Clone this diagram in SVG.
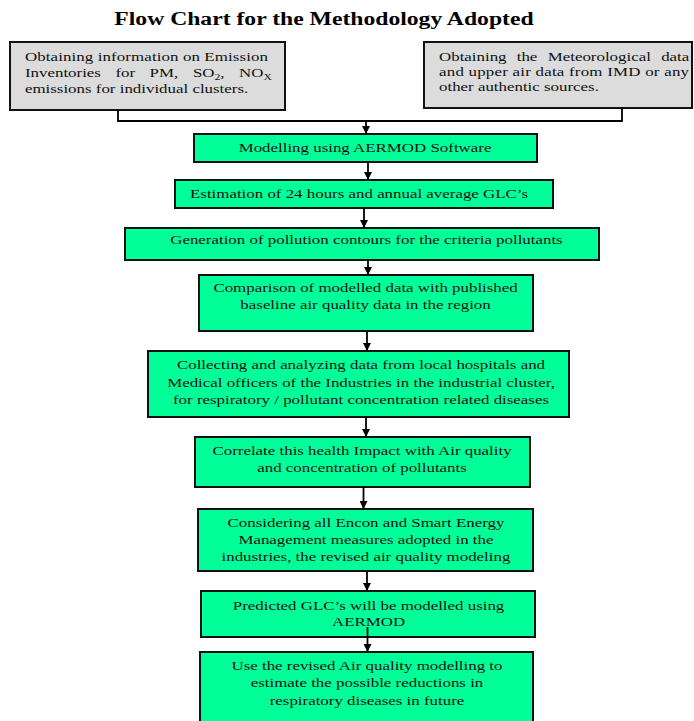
<svg xmlns="http://www.w3.org/2000/svg" width="694" height="721" viewBox="0 0 694 721">
<style>
.t{font-family:"Liberation Serif","Times New Roman",serif;font-size:13px;fill:#111;}
.c{text-anchor:middle;}
.title{font-family:"Liberation Serif","Times New Roman",serif;font-size:18.2px;font-weight:bold;fill:#000;text-anchor:middle;}
.g{fill:#00FF99;stroke:#111;stroke-width:2;}
.gr{fill:#DCDCDC;stroke:#111;stroke-width:2;}
.ln{fill:none;stroke:#000;stroke-width:1.8;}
</style>
<defs>
<marker id="ah" viewBox="0 0 10 10" refX="10" refY="5" markerWidth="9" markerHeight="8" markerUnits="userSpaceOnUse" orient="auto">
<path d="M0,0 L10,5 L0,10 z" fill="#000"/>
</marker>
</defs>
<rect width="694" height="721" fill="#fff"/>
<g id="title" transform="scale(1.3,1)"><text class="title" x="249.2" y="25">Flow Chart for the Methodology Adopted</text></g>

<g id="n1">
<rect class="gr" x="10" y="42" width="275" height="68"/>
<g transform="scale(1.3,1)">
<text class="t" x="19.2" y="61" textLength="186.9" lengthAdjust="spacing">Obtaining information on Emission</text>
<text class="t" y="77"><tspan x="19.2">Inventories</tspan><tspan x="88.8">for</tspan><tspan x="115">PM,</tspan><tspan x="148.4">SO<tspan font-size="9" dy="3">2</tspan><tspan dy="-3">,</tspan></tspan><tspan x="183.9">NO<tspan font-size="9" dy="3">X</tspan></tspan></text>
<text class="t" x="19.2" y="93">emissions for individual clusters.</text>
</g>
</g>

<g id="n2">
<rect class="gr" x="424" y="42" width="268" height="66"/>
<g transform="scale(1.3,1)">
<text class="t" y="61"><tspan x="337.7">Obtaining</tspan><tspan x="397.5">the</tspan><tspan x="421.3">Meteorological</tspan><tspan x="508.6">data</tspan></text>
<text class="t" x="337.7" y="76" textLength="192.3" lengthAdjust="spacing">and upper air data from IMD or any</text>
<text class="t" x="337.7" y="91">other authentic sources.</text>
</g>
</g>

<g id="n3"><rect class="g" x="194" y="134" width="343" height="28"/>
<g transform="scale(1.3,1)"><text class="t c" x="280.8" y="152.5">Modelling using AERMOD Software</text></g></g>

<g id="n4"><rect class="g" x="175" y="180" width="378" height="28"/>
<g transform="scale(1.3,1)"><text class="t c" x="276.2" y="198">Estimation of 24 hours and annual average GLC’s</text></g></g>

<g id="n5"><rect class="g" x="125" y="228" width="474" height="32"/>
<g transform="scale(1.3,1)"><text class="t c" x="281.9" y="244.5">Generation of pollution contours for the criteria pollutants</text></g></g>

<g id="n6"><rect class="g" x="199" y="275" width="334" height="56"/>
<g transform="scale(1.3,1)"><text class="t c" x="281.2" y="292.5">Comparison of modelled data with published</text>
<text class="t c" x="281.2" y="309.5">baseline air quality data in the region</text></g></g>

<g id="n7"><rect class="g" x="148" y="351" width="421" height="66"/>
<g transform="scale(1.3,1)"><text class="t c" x="277.7" y="369">Collecting and analyzing data from local hospitals and</text>
<text class="t c" x="277.7" y="387">Medical officers of the Industries in the industrial cluster,</text>
<text class="t c" x="277.7" y="404.5">for respiratory / pollutant concentration related diseases</text></g></g>

<g id="n8"><rect class="g" x="195" y="437" width="335" height="50"/>
<g transform="scale(1.3,1)"><text class="t c" x="278.5" y="455">Correlate this health Impact with Air quality</text>
<text class="t c" x="278.5" y="472">and concentration of pollutants</text></g></g>

<g id="n9"><rect class="g" x="198" y="509" width="335" height="62"/>
<g transform="scale(1.3,1)"><text class="t c" x="281.5" y="527.5">Considering all Encon and Smart Energy</text>
<text class="t c" x="281.5" y="544">Management measures adopted in the</text>
<text class="t c" x="281.5" y="561.5">industries, the revised air quality modeling</text></g></g>

<g id="n10"><rect class="g" x="201" y="591" width="334" height="46"/>
<g transform="scale(1.3,1)"><text class="t c" x="283.5" y="610">Predicted GLC’s will be modelled using</text>
<text class="t c" x="283.5" y="626.5">AERMOD</text></g></g>

<g id="n11"><rect class="g" x="200" y="652" width="333" height="80"/>
<g transform="scale(1.3,1)"><text class="t c" x="282.3" y="670">Use the revised Air quality modelling to</text>
<text class="t c" x="282.3" y="687.5">estimate the possible reductions in</text>
<text class="t c" x="282.3" y="705">respiratory diseases in future</text></g></g>

<g id="connectors">
<polyline class="ln" points="118,110 118,121 622,121 622,108"/>
<line class="ln" x1="366" y1="121" x2="366" y2="134" marker-end="url(#ah)"/>
<line class="ln" x1="368" y1="162" x2="368" y2="180" marker-end="url(#ah)"/>
<line class="ln" x1="364" y1="208" x2="364" y2="228" marker-end="url(#ah)"/>
<line class="ln" x1="368" y1="260" x2="368" y2="275" marker-end="url(#ah)"/>
<line class="ln" x1="367" y1="331" x2="367" y2="351" marker-end="url(#ah)"/>
<line class="ln" x1="366" y1="417" x2="366" y2="437" marker-end="url(#ah)"/>
<line class="ln" x1="363.5" y1="487" x2="363.5" y2="509" marker-end="url(#ah)"/>
<line class="ln" x1="367" y1="571" x2="367" y2="591" marker-end="url(#ah)"/>
<line class="ln" x1="367.5" y1="627" x2="367.5" y2="652" marker-end="url(#ah)"/>
</g>
</svg>
